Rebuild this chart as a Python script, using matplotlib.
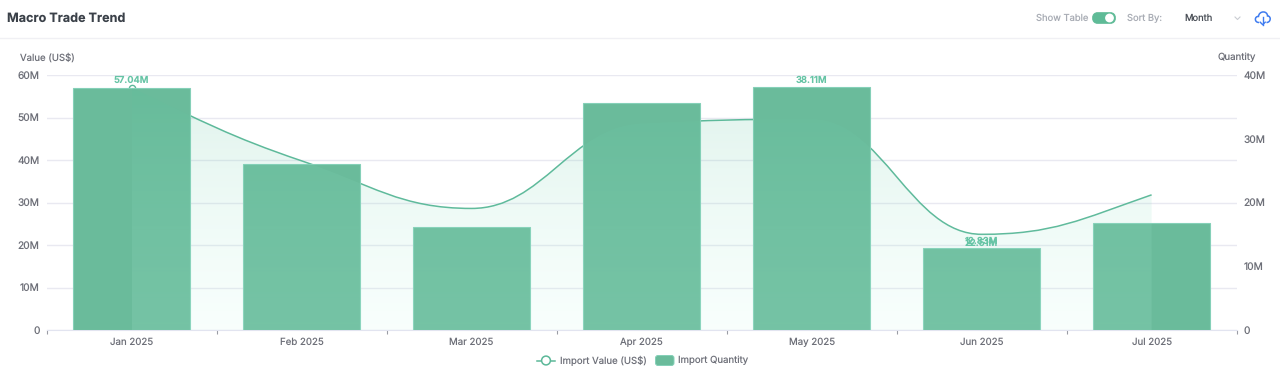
import matplotlib
matplotlib.use('Agg')
import matplotlib.pyplot as plt
import numpy as np
from matplotlib.patches import PathPatch, FancyBboxPatch, Circle
from matplotlib.path import Path
from matplotlib.ticker import FixedLocator, FuncFormatter
from matplotlib.colors import to_rgb

plt.rcParams['font.family'] = ['Inter', 'DejaVu Sans']
plt.rcParams['text.hinting'] = 'no_hinting'
plt.rcParams['text.hinting_factor'] = 1

months = ['Jan 2025', 'Feb 2025', 'Mar 2025', 'Apr 2025', 'May 2025', 'Jun 2025', 'Jul 2025']
import_value = [57.04, 39.8, 28.6, 48.6, 49.6, 22.51, 31.8]
import_qty = [37.96, 26.0, 16.2, 35.6, 38.11, 12.83, 16.8]
left_ticks = [0, 10, 20, 30, 40, 50, 60]
right_ticks = [0, 10, 20, 30, 40]

GREEN = '#6abb9b'
LINE = '#5cb899'
LABEL = '#66c4a5'
GRID = '#e9e9f1'
TICK = '#6e7079'

W, H = 1280, 372
fig = plt.figure(figsize=(W / 100, H / 100), dpi=100, facecolor='white')

# page furniture, in pixels
ui = fig.add_axes([0, 0, 1, 1], zorder=0)
ui.set_xlim(0, W)
ui.set_ylim(H, 0)
ui.axis('off')


def px(v):
    return v * 0.72


def smooth_path(xs, ys):
    # monotone bezier through the points, flat at the local extremes
    n = len(xs)
    sec = [(ys[i + 1] - ys[i]) / (xs[i + 1] - xs[i]) for i in range(n - 1)]
    m = [0.0] * n
    for i in range(1, n - 1):
        if sec[i - 1] * sec[i] > 0:
            m[i] = 2 * sec[i - 1] * sec[i] / (sec[i - 1] + sec[i])
    m[0] = (3 * sec[0] - m[1]) / 2
    m[-1] = (3 * sec[-1] - m[-2]) / 2
    verts = [(xs[0], ys[0])]
    codes = [Path.MOVETO]
    for i in range(n - 1):
        d = (xs[i + 1] - xs[i]) * 0.42
        verts += [(xs[i] + d, ys[i] + m[i] * d), (xs[i + 1] - d, ys[i + 1] - m[i + 1] * d), (xs[i + 1], ys[i + 1])]
        codes += [Path.CURVE4] * 3
    return verts, codes


ax = fig.add_axes([46.6 / W, (H - 330) / H, 1190 / W, 255 / H], zorder=1)
ax.patch.set_alpha(0)
ax2 = ax.twinx()
ax2.set_zorder(2)
ax2.patch.set_alpha(0)

x = np.arange(len(months))
xlim = (-0.5, len(months) - 0.5)

# left axis: grid and line
ax.set_ylim(0, 60)
ax.set_xlim(*xlim)
ax.yaxis.set_major_locator(FixedLocator(left_ticks))
ax.yaxis.set_major_formatter(FuncFormatter(lambda v, p: '0' if v == 0 else '%dM' % v))
ax.grid(True, axis='y', color=GRID, linewidth=1)
ax.set_axisbelow(True)
ax.set_xticks(np.arange(len(months) + 1) - 0.5, minor=False)
ax.set_xticklabels([])
ax.set_xticks(x, minor=True)
ax.set_xticklabels(months, minor=True)
ax.tick_params(axis='x', which='major', length=3.2, width=0.8, color='#9a9ca4', pad=3)
ax.tick_params(axis='x', which='minor', length=0, labelsize=px(9.7), labelcolor=TICK, pad=5.2)
ax.tick_params(axis='y', length=0, labelsize=px(10.2), labelcolor=TICK, pad=5)
for s in ['top', 'left', 'right']:
    ax.spines[s].set_visible(False)
ax.spines['bottom'].set_color('#e2e4f0')

verts, codes = smooth_path(list(x), import_value)
ax.add_patch(PathPatch(Path(verts, codes), fc='none', ec=LINE, lw=1.1, zorder=3))
ax.plot(x[0], import_value[0], 'o', ms=4.5, mfc='white', mec=LINE, mew=1, zorder=4)

# right axis: bars, then the area on top of them
ax2.set_ylim(0, 40)
ax2.set_xlim(*xlim)
ax2.yaxis.set_major_locator(FixedLocator(right_ticks))
ax2.yaxis.set_major_formatter(FuncFormatter(lambda v, p: '0' if v == 0 else '%dM' % v))
ax2.tick_params(axis='y', length=0, labelsize=px(10.2), labelcolor=TICK, pad=5)
for s in ['top', 'left', 'right', 'bottom']:
    ax2.spines[s].set_visible(False)
ax2.bar(x, import_qty, width=117 / 170, color=GREEN, edgecolor='#85d0b8', linewidth=0.8, zorder=2)

top_c = np.array(to_rgb('#5cc09b'))
bot_c = np.array(to_rgb('#c8ffee'))
t = np.linspace(0, 1, 256)[:, None]
grad = np.zeros((256, 1, 4))
grad[:, :, :3] = (top_c * (1 - t) + bot_c * t)[:, None, :]
grad[:, :, 3] = (0.19 * (1 - t) + 0.12 * t)
top_q = max(import_value) / 60 * 40
im = ax2.imshow(grad, extent=(x[0], x[-1], 0, top_q), origin='upper', aspect='auto', zorder=3, interpolation='bilinear')
area = Path(verts + [(x[-1], 0), (x[0], 0), (x[0], import_value[0])], codes + [Path.LINETO, Path.LINETO, Path.CLOSEPOLY])
clip = PathPatch(area, transform=ax.transData, fc='none', ec='none')
im.set_clip_path(clip)
ax2.set_xlim(*xlim)
ax2.set_ylim(0, 40)

# only the extremes carry labels
imax = int(np.argmax(import_value))
imin = int(np.argmin(import_value))
lab = dict(textcoords='offset points', ha='center', va='center', fontsize=px(9.4), fontweight='semibold', color=LABEL, zorder=5)
ax2.annotate('%.2fM' % import_value[imax], (x[imax], import_value[imax] * 40 / 60), xytext=(0, px(7.5)), **lab)
ax2.annotate('%.2fM' % import_qty[4], (x[4], import_qty[4]), xytext=(0, px(6.5)), **lab)
ax2.annotate('%.2fM' % import_qty[5], (x[5], import_qty[5]), xytext=(0, px(6.5)), **lab)
ax2.annotate('%.2fM' % import_value[imin], (x[imin], import_qty[imin]), xytext=(0, px(4.5)), **lab)

# header
ui.text(7, 18.5, 'Macro Trade Trend', fontsize=px(12.6), fontweight='bold', color='#3b4149', va='center', ha='left')
ui.plot([0, W], [38, 38], color='#f0f0f4', lw=1)
ui.text(1036, 18.5, 'Show Table', fontsize=px(9.4), color='#a9adb5', va='center', ha='left')
ui.add_patch(FancyBboxPatch((1092.5, 12.5), 23, 11, boxstyle='round,pad=0,rounding_size=5.5', fc='#5fbb97', ec='#5fbb97', lw=0.5))
ui.add_patch(Circle((1109.5, 18), 4.4, fc='white', ec='none', zorder=5))
ui.text(1127, 18.5, 'Sort By:', fontsize=px(9.4), color='#a9adb5', va='center', ha='left')
ui.text(1184, 18.5, 'Month', fontsize=px(9.4), color='#4a4f57', va='center', ha='left')
ui.plot([1235, 1237.5, 1240], [17, 19.5, 17], color='#c9ccd2', lw=0.8)

# cloud icon
cloud = Path([(1259, 22.5), (1254, 22.5), (1254.5, 16), (1258.5, 16.5), (1259, 10.5), (1267.5, 10.5), (1267.5, 16), (1271.5, 16), (1271, 22.5), (1266.5, 22.5)],
             [Path.MOVETO, Path.CURVE4, Path.CURVE4, Path.CURVE4, Path.CURVE4, Path.CURVE4, Path.CURVE4, Path.CURVE4, Path.CURVE4, Path.CURVE4])
ui.add_patch(PathPatch(cloud, fc='none', ec='#3f7cf0', lw=1.1))
ui.plot([1262.7, 1262.7], [17, 24.5], color='#3f7cf0', lw=1)
ui.plot([1260.2, 1262.7, 1265.2], [22.2, 24.7, 22.2], color='#3f7cf0', lw=1)

# axis names
ui.text(20, 57.5, 'Value (US$)', fontsize=px(9.6), color=TICK, va='center', ha='left')
ui.text(1256, 57.5, 'Quantity', fontsize=px(9.7), color=TICK, va='center', ha='right')

# legend
ui.plot([537, 555], [360.5, 360.5], color=LINE, lw=1.1)
ui.add_patch(Circle((546, 360.5), 4.4, fc='white', ec=LINE, lw=1.1, zorder=4))
ui.text(560, 360.5, 'Import Value (US$)', fontsize=px(9.6), color=TICK, va='center', ha='left')
ui.add_patch(FancyBboxPatch((655.5, 355.5), 18.5, 10, boxstyle='round,pad=0,rounding_size=2.5', fc=GREEN, ec='#85d0b8', lw=0.7))
ui.text(678, 360.5, 'Import Quantity', fontsize=px(9.6), color=TICK, va='center', ha='left')

fig.savefig('out.png', dpi=100, facecolor='white')
